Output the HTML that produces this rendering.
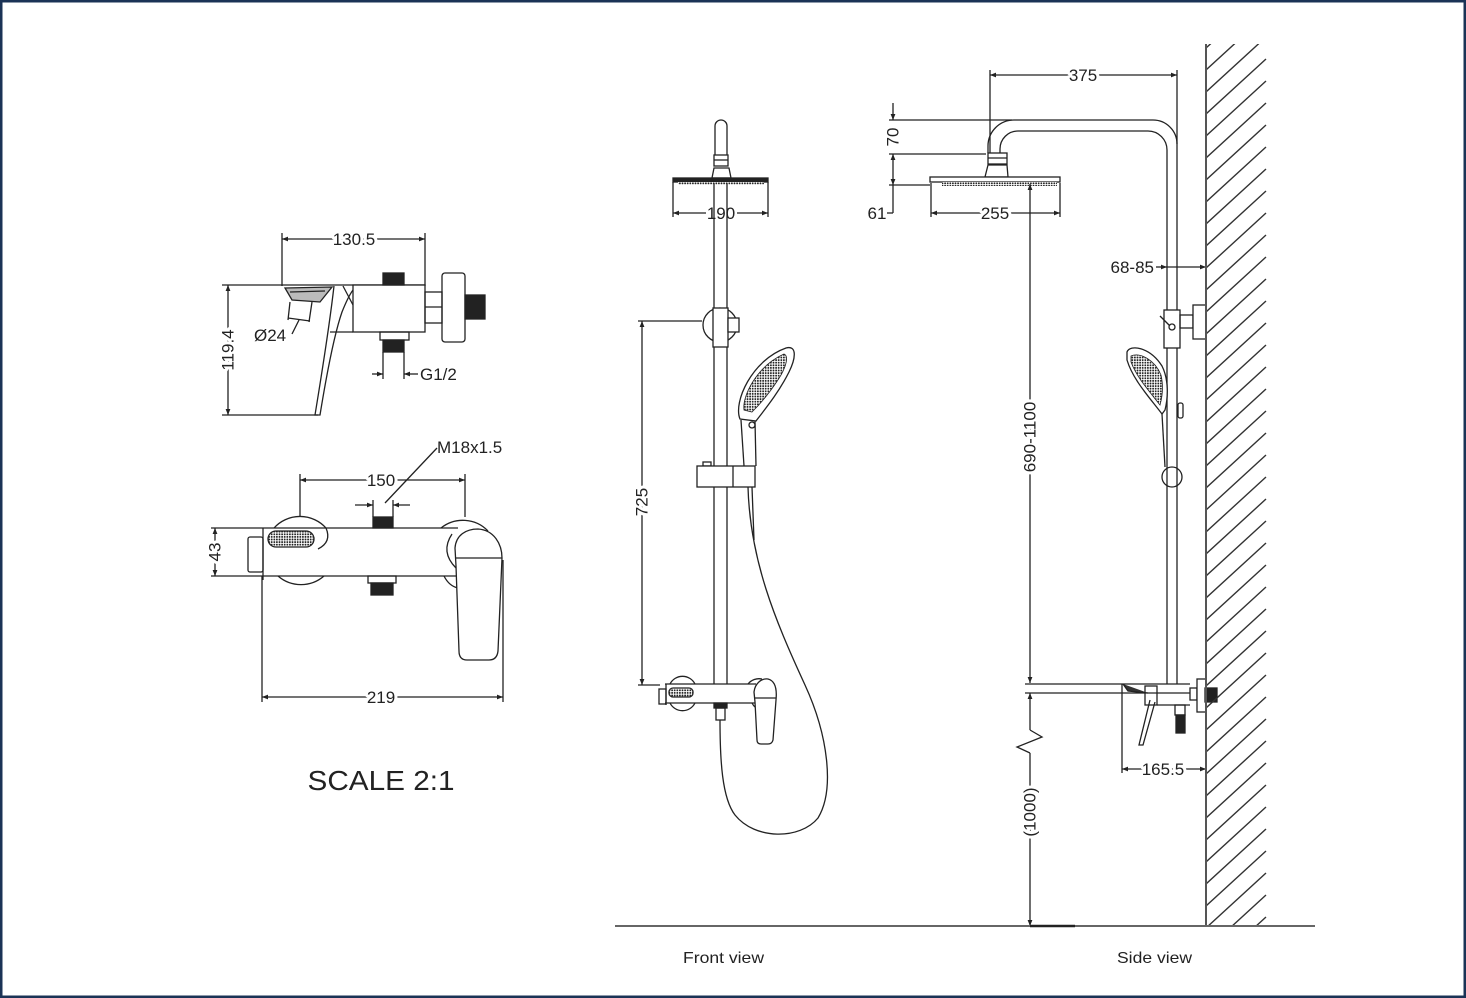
<!DOCTYPE html>
<html><head><meta charset="utf-8"><style>
html,body{margin:0;padding:0;background:#fff;}
svg{display:block;}
text{font-family:"Liberation Sans",Arial,sans-serif;font-size:17px;fill:#222;stroke:none;}
.h{stroke:#fff;stroke-width:6px;paint-order:stroke;stroke-linejoin:round;}
</style></head><body>
<svg width="1466" height="998" viewBox="0 0 1466 998" xmlns="http://www.w3.org/2000/svg">
<defs>
<marker id="a" viewBox="0 0 10 10" refX="10" refY="5" markerWidth="8" markerHeight="6" markerUnits="userSpaceOnUse" orient="auto-start-reverse"><path d="M0,1 L10,5 L0,9 z" fill="#222" stroke="none"/></marker>
<pattern id="dots" width="2.6" height="2.6" patternUnits="userSpaceOnUse"><rect width="2.6" height="2.6" fill="#fff"/><circle cx="1.3" cy="1.3" r="0.95" fill="#222"/></pattern>
<clipPath id="wc"><rect x="1206" y="44" width="62" height="882"/></clipPath>
</defs>
<rect x="1.25" y="1.25" width="1463.5" height="995.5" fill="#fff" stroke="#1b3356" stroke-width="2.5"/>

<g fill="none" stroke="#222" stroke-width="1.3">
<!-- ===== TOP LEFT MIXER (side) ===== -->
<line x1="282" y1="239" x2="425" y2="239" marker-start="url(#a)" marker-end="url(#a)"/>
<line x1="282" y1="233" x2="282" y2="286"/>
<line x1="425" y1="233" x2="425" y2="286"/>
<line x1="282" y1="285" x2="425" y2="285"/>
<rect x="353" y="285" width="72" height="47" fill="#fff"/>
<rect x="383" y="273" width="21" height="12" fill="#222"/>
<rect x="380" y="332" width="29" height="8"/>
<rect x="383" y="340" width="21" height="12" fill="#222"/>
<line x1="383" y1="352" x2="383" y2="379"/>
<line x1="404" y1="352" x2="404" y2="379"/>
<line x1="372" y1="374" x2="383" y2="374" marker-end="url(#a)"/>
<line x1="418" y1="374" x2="404" y2="374" marker-end="url(#a)"/>
<rect x="425" y="292" width="17" height="31"/>
<line x1="425" y1="307" x2="442" y2="307"/>
<rect x="442" y="273" width="23" height="69" rx="3"/>
<rect x="465" y="295" width="20" height="24" fill="#222"/>
<path d="M285,288 L332,287 L320,302 L292,300 Z" fill="#bbb"/>
<path d="M290,292 L325,291"/>
<path d="M334,286 C329,330 322,372 315,415 L320,415 C327,372 334,335 342,312 C346,302 350,294 353,290"/>
<line x1="343" y1="286" x2="353" y2="305"/>
<line x1="330" y1="332" x2="353" y2="332"/>
<line x1="290" y1="302" x2="288" y2="320"/>
<line x1="312" y1="302" x2="309" y2="322"/>
<line x1="288" y1="318" x2="310" y2="321"/>
<line x1="292" y1="334" x2="299" y2="320"/>
<line x1="228" y1="285" x2="228" y2="415" marker-start="url(#a)" marker-end="url(#a)"/>
<line x1="222" y1="285" x2="282" y2="285"/>
<line x1="222" y1="415" x2="318" y2="415"/>

<!-- ===== BOTTOM LEFT MIXER (front) ===== -->
<line x1="437" y1="448" x2="385" y2="503"/>
<line x1="300" y1="480" x2="465" y2="480" marker-start="url(#a)" marker-end="url(#a)"/>
<line x1="300" y1="474" x2="300" y2="517"/>
<line x1="465" y1="474" x2="465" y2="517"/>
<line x1="355" y1="505" x2="373" y2="505" marker-end="url(#a)"/>
<line x1="410" y1="505" x2="393" y2="505" marker-end="url(#a)"/>
<line x1="373" y1="500" x2="373" y2="517"/>
<line x1="393" y1="500" x2="393" y2="517"/>
<rect x="373" y="517" width="20" height="11" fill="#222"/>
<line x1="262" y1="528" x2="458" y2="528"/>
<line x1="262" y1="576" x2="458" y2="576"/>
<path d="M274,528 A35,35 0 0 1 326,528 Q332,542 318,549"/>
<path d="M278,576 A35,35 0 0 0 324,576"/>
<rect x="248" y="537" width="15" height="35" rx="2"/>
<line x1="263" y1="528" x2="263" y2="580"/>
<rect x="268" y="531" width="46" height="16" rx="8" fill="url(#dots)"/>
<path d="M441,528 A35,35 0 0 1 488,531"/>
<path d="M444,576 Q449,586 458,588"/>
<path d="M452,534 Q440,552 456,568"/>
<path d="M455,548 C456,535 466,529 478,529 C494,530 502,544 502,558 L498,651 Q497,660 489,660 L467,660 Q459,660 459,651 L456,566 Z" fill="#fff"/>
<line x1="456" y1="558" x2="502" y2="558"/>
<rect x="368" y="576" width="28" height="7"/>
<rect x="371" y="583" width="22" height="12" fill="#222"/>
<line x1="215" y1="528" x2="215" y2="576" marker-start="url(#a)" marker-end="url(#a)"/>
<line x1="211" y1="528" x2="262" y2="528"/>
<line x1="211" y1="576" x2="262" y2="576"/>
<line x1="262" y1="697" x2="503" y2="697" marker-start="url(#a)" marker-end="url(#a)"/>
<line x1="262" y1="576" x2="262" y2="702"/>
<line x1="503" y1="560" x2="503" y2="702"/>

<!-- ===== FRONT VIEW ===== -->
<path d="M715,155 V126 A6,6 0 0 1 727,126 V155"/>
<rect x="714" y="155" width="14" height="11"/>
<line x1="714" y1="160" x2="728" y2="160"/>
<path d="M714,168 L729,168 L731,178 L712,178 Z"/>
<rect x="673" y="178" width="95" height="4" fill="#222"/>
<rect x="678" y="182" width="86" height="3" fill="url(#dots)" stroke="none"/>
<line x1="673" y1="182" x2="673" y2="217"/>
<line x1="768" y1="182" x2="768" y2="217"/>
<line x1="673" y1="213" x2="706" y2="213" marker-start="url(#a)"/>
<line x1="737" y1="213" x2="768" y2="213" marker-end="url(#a)"/>
<line x1="714" y1="183" x2="714" y2="684"/>
<line x1="727" y1="183" x2="727" y2="684"/>
<circle cx="720" cy="325" r="17"/>
<rect x="713" y="308" width="15" height="39" fill="#fff"/>
<rect x="728" y="318" width="11" height="14" fill="#fff"/>
<line x1="638" y1="321" x2="702" y2="321"/>
<line x1="642" y1="321" x2="642" y2="685" marker-start="url(#a)" marker-end="url(#a)"/>
<line x1="638" y1="685" x2="660" y2="685"/>
<path d="M740,419 C733,402 752,360 786,348 C797,345 796,358 789,372 C779,392 766,408 756,421 Z" fill="#fff"/>
<path d="M744,410 C742,396 757,366 784,354 C789,356 786,366 781,375 C772,390 762,402 752,412 Z" fill="url(#dots)" stroke-width="0.8"/>
<line x1="741" y1="420" x2="744" y2="466"/>
<line x1="755" y1="421" x2="756" y2="466"/>
<circle cx="752" cy="425" r="3"/>
<rect x="703" y="462" width="8" height="4"/>
<rect x="697" y="466" width="58" height="21" fill="#fff"/>
<line x1="733" y1="466" x2="733" y2="487"/>
<path d="M748,487 C750,560 775,620 805,685 C828,735 835,790 818,818 C800,840 755,840 735,815 C722,798 720,760 720,720"/>
<line x1="752" y1="487" x2="754" y2="540"/>
<line x1="665" y1="684" x2="756" y2="684"/>
<line x1="665" y1="703" x2="756" y2="703"/>
<path d="M670,684 A14,14 0 0 1 695,684"/>
<path d="M670,703 A14,14 0 0 0 695,703"/>
<rect x="659" y="689" width="7" height="15"/>
<line x1="666" y1="684" x2="666" y2="705"/>
<rect x="669" y="688" width="24" height="9" rx="4" fill="url(#dots)"/>
<path d="M748,684 A14,14 0 0 1 762,679"/>
<path d="M752,703 Q755,709 760,709"/>
<path d="M754,692 C755,683 762,678 768,679 C776,681 777,690 776,700 L773,740 Q772,744 768,744 L761,744 Q757,744 757,740 L755,702 Z" fill="#fff"/>
<line x1="755" y1="698" x2="776" y2="698"/>
<rect x="714" y="703" width="13" height="5" fill="#222"/>
<rect x="716" y="708" width="9" height="12"/>

<!-- ===== SIDE VIEW ===== -->
<line x1="990" y1="75" x2="1177" y2="75" marker-start="url(#a)" marker-end="url(#a)"/>
<line x1="990" y1="70" x2="990" y2="153"/>
<line x1="1177" y1="70" x2="1177" y2="144"/>
<path d="M988,153 V146 A26,26 0 0 1 1014,120 H1153 A24,24 0 0 1 1177,144 V684"/>
<path d="M1000,153 V149 A18,18 0 0 1 1018,131 H1148 A19,19 0 0 1 1167,150 V684"/>
<rect x="988" y="153" width="19" height="11" fill="#fff"/>
<line x1="988" y1="158" x2="1007" y2="158"/>
<path d="M988,165 H1007 L1008,177 H985 Z"/>
<rect x="930" y="177" width="130" height="5" fill="#fff"/>
<rect x="942" y="182" width="115" height="4" fill="url(#dots)" stroke="none"/>
<line x1="889" y1="120" x2="1012" y2="120"/>
<line x1="889" y1="154" x2="986" y2="154"/>
<line x1="889" y1="185" x2="930" y2="185"/>
<line x1="893" y1="103" x2="893" y2="120" marker-end="url(#a)"/>
<line x1="893" y1="168" x2="893" y2="154" marker-end="url(#a)"/>
<line x1="893" y1="168" x2="893" y2="185" marker-end="url(#a)"/>
<line x1="893" y1="185" x2="893" y2="213"/>
<line x1="893" y1="213" x2="887" y2="213"/>
<line x1="931" y1="183" x2="931" y2="217"/>
<line x1="1060" y1="183" x2="1060" y2="217"/>
<line x1="931" y1="213" x2="1060" y2="213" marker-start="url(#a)" marker-end="url(#a)"/>
<line x1="1030" y1="184" x2="1030" y2="683" marker-start="url(#a)" marker-end="url(#a)"/>
<line x1="1030" y1="693" x2="1030" y2="730" marker-start="url(#a)"/>
<path d="M1030,730 L1042,737 L1017,747 L1030,753"/>
<line x1="1030" y1="753" x2="1030" y2="926" marker-end="url(#a)"/>
<line x1="1025" y1="684" x2="1190" y2="684"/>
<line x1="1025" y1="693" x2="1190" y2="693"/>
<line x1="1156" y1="267" x2="1167" y2="267" marker-end="url(#a)"/>
<line x1="1167" y1="267" x2="1206" y2="267" marker-end="url(#a)"/>
<rect x="1164" y="310" width="16" height="38" fill="#fff"/>
<rect x="1180" y="315" width="13" height="13"/>
<rect x="1193" y="305" width="13" height="34" fill="#fff"/>
<line x1="1160" y1="316" x2="1172" y2="328"/>
<circle cx="1172" cy="327" r="3" fill="#fff"/>
<path d="M1127,352 C1130,344 1150,347 1162,366 C1169,380 1168,398 1165,410 L1162,414 C1150,398 1133,380 1127,360 Z" fill="#fff"/>
<path d="M1131,356 C1140,352 1155,360 1161,375 C1164,388 1162,398 1160,405 C1150,392 1137,378 1131,362 Z" fill="url(#dots)" stroke-width="0.8"/>
<line x1="1162" y1="414" x2="1165" y2="467"/>
<rect x="1178" y="403" width="5" height="15" rx="2"/>
<circle cx="1172" cy="477" r="10"/>
<path d="M1123,684 L1128,691 L1148,693" fill="#333"/>
<rect x="1145" y="686" width="12" height="19"/>
<path d="M1150,700 L1139,745 L1143,745 L1155,702"/>
<line x1="1157" y1="705" x2="1190" y2="705"/>
<rect x="1190" y="688" width="7" height="12"/>
<rect x="1197" y="679" width="9" height="33" fill="#fff"/>
<rect x="1205" y="688" width="12" height="14" fill="#222"/>
<rect x="1175" y="705" width="10" height="10"/>
<rect x="1176" y="715" width="9" height="18" fill="#222"/>
<line x1="1122" y1="684" x2="1122" y2="773"/>
<line x1="1122" y1="769" x2="1206" y2="769" marker-start="url(#a)" marker-end="url(#a)"/>

<!-- wall hatch -->
<g clip-path="url(#wc)" stroke="#333" stroke-width="1.4">
<path d="M1206,48l60,-55M1206,70l60,-55M1206,92l60,-55M1206,114l60,-55M1206,136l60,-55M1206,158l60,-55M1206,180l60,-55M1206,202l60,-55M1206,224l60,-55M1206,246l60,-55M1206,268l60,-55M1206,290l60,-55M1206,312l60,-55M1206,334l60,-55M1206,356l60,-55M1206,378l60,-55M1206,400l60,-55M1206,422l60,-55M1206,444l60,-55M1206,466l60,-55M1206,488l60,-55M1206,510l60,-55M1206,532l60,-55M1206,554l60,-55M1206,576l60,-55M1206,598l60,-55M1206,620l60,-55M1206,642l60,-55M1206,664l60,-55M1206,686l60,-55M1206,708l60,-55M1206,730l60,-55M1206,752l60,-55M1206,774l60,-55M1206,796l60,-55M1206,818l60,-55M1206,840l60,-55M1206,862l60,-55M1206,884l60,-55M1206,906l60,-55M1206,928l60,-55M1206,950l60,-55M1206,972l60,-55"/>
</g>
<line x1="1206" y1="44" x2="1206" y2="926" stroke="#555" stroke-width="2"/>
<line x1="615" y1="926" x2="1315" y2="926" stroke="#666" stroke-width="2"/>
<line x1="1030" y1="926" x2="1075" y2="926" stroke="#222" stroke-width="2.5"/>
</g>

<!-- ===== TEXT ===== -->
<text class="h" x="354" y="245" text-anchor="middle">130.5</text>
<text x="420" y="380">G1/2</text>
<text x="254" y="341">Ø24</text>
<text class="h" transform="translate(228,350) rotate(-90)" text-anchor="middle" dominant-baseline="central">119.4</text>
<text x="437" y="453">M18x1.5</text>
<text class="h" x="381" y="486" text-anchor="middle">150</text>
<text class="h" transform="translate(215,552) rotate(-90)" text-anchor="middle" dominant-baseline="central">43</text>
<text class="h" x="381" y="703" text-anchor="middle">219</text>
<text x="381" y="790" text-anchor="middle" style="font-size:28px" textLength="147" lengthAdjust="spacingAndGlyphs">SCALE 2:1</text>

<text x="721" y="219" text-anchor="middle">190</text>
<text class="h" transform="translate(642,502) rotate(-90)" text-anchor="middle" dominant-baseline="central">725</text>

<text class="h" x="1083" y="81" text-anchor="middle">375</text>
<text class="h" transform="translate(893,137) rotate(-90)" text-anchor="middle" dominant-baseline="central">70</text>
<text x="877" y="219" text-anchor="middle">61</text>
<text class="h" x="995" y="219" text-anchor="middle">255</text>
<text x="1154" y="273" text-anchor="end">68-85</text>
<text class="h" transform="translate(1030,437) rotate(-90)" text-anchor="middle" dominant-baseline="central">690-1100</text>
<text class="h" transform="translate(1030,812) rotate(-90)" text-anchor="middle" dominant-baseline="central">(1000)</text>
<text class="h" x="1163" y="775" text-anchor="middle">165.5</text>

<text x="683" y="963" style="font-size:16px" textLength="81" lengthAdjust="spacingAndGlyphs">Front view</text>
<text x="1117" y="963" style="font-size:16px" textLength="75" lengthAdjust="spacingAndGlyphs">Side view</text>
</svg>
</body></html>
